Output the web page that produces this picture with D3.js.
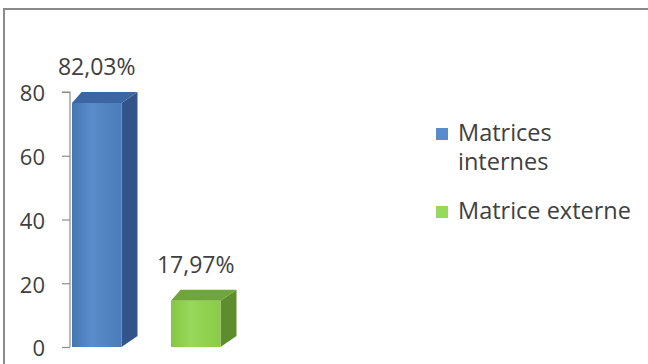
<!DOCTYPE html>
<html>
<head>
<meta charset="utf-8">
<script src="https://cdn.jsdelivr.net/npm/d3@7"></script>
<style>
  html, body { margin: 0; padding: 0; background: #fff; }
  svg { display: block; }
  text { font-family: "Open Sans", "Liberation Sans", sans-serif; fill: #404040; }
</style>
</head>
<body>
<svg id="chart" width="648" height="364"></svg>
<script>
// Répartition des matrices (valeurs en %)
const categories = ["Matrices internes", "Matrice externe"];
const values = [82.03, 17.97];
const legendLines = [["Matrices", "internes"], ["Matrice externe"]];
const yTicks = [0, 20, 40, 60, 80];

const palette = [
  { front: ["#4576b4", "#5a8ccb", "#4a7cba"], side: "#31548a", top: "#3c66a3" },
  { front: ["#86c644", "#98d85a", "#8acb48"], side: "#5f8d2e", top: "#6fa63b" }
];

const svg = d3.select("#chart");
const W = 648, H = 364;

// Cadre de la zone du graphique
svg.append("rect")
  .attr("x", 4).attr("y", 9)
  .attr("width", W + 10).attr("height", H + 10)
  .attr("fill", "#fff")
  .attr("stroke", "#8a8a8a").attr("stroke-width", 2);

const y = d3.scaleLinear().domain([0, 80]).range([347, 92]).clamp(true);
const x = d3.scaleBand().domain(categories)
  .range([47.25, 245.25]).paddingInner(0.5).paddingOuter(0.25);

const depthX = 16, depthY = 11;

// Axe vertical
const axis = svg.append("g").attr("transform", "translate(70,0)")
  .call(d3.axisLeft(y).tickValues(yTicks).tickSize(8).tickPadding(17));
axis.select(".domain").attr("stroke", "#8c8c8c").attr("stroke-width", 1.2)
  .attr("d", `M-8,${y(80)}H0V${y(0)}`);
axis.selectAll(".tick line").attr("stroke", "#8c8c8c").attr("stroke-width", 1.2);
axis.selectAll(".tick text")
  .style("font-family", '"Open Sans", sans-serif')
  .style("font-size", "22px").attr("fill", "#404040").attr("dy", "0.4em");

// Dégradés des faces avant
const defs = svg.append("defs");
palette.forEach((p, i) => {
  const g = defs.append("linearGradient").attr("id", "front" + i)
    .attr("x1", "0").attr("x2", "1").attr("y1", "0").attr("y2", "0");
  g.append("stop").attr("offset", "0").attr("stop-color", p.front[0]);
  g.append("stop").attr("offset", "0.4").attr("stop-color", p.front[1]);
  g.append("stop").attr("offset", "1").attr("stop-color", p.front[2]);
});

// Colonnes 3D
const bars = svg.append("g").selectAll("g").data(categories).join("g");
bars.each(function (c, i) {
  const g = d3.select(this);
  const x0 = x(c), x1 = x(c) + x.bandwidth();
  const backTop = y(values[i]);
  const frontTop = backTop + depthY;
  const base = y(0);
  // face latérale
  g.append("path").attr("fill", palette[i].side)
    .attr("d", `M${x1},${frontTop}L${x1 + depthX},${backTop}L${x1 + depthX},${base - depthY}L${x1},${base}Z`);
  // dessus
  g.append("path").attr("fill", palette[i].top)
    .attr("d", `M${x0},${frontTop}L${x0 + depthX * 0.6},${backTop}L${x1 + depthX},${backTop}L${x1},${frontTop}Z`);
  // face avant
  g.append("rect").attr("fill", `url(#front${i})`)
    .attr("x", x0).attr("y", frontTop)
    .attr("width", x.bandwidth()).attr("height", base - frontTop);
});

// Étiquettes de valeurs
const fr = d3.formatLocale({ decimal: ",", thousands: " ", grouping: [3], currency: ["", " €"] });
const fmt = fr.format(".2f");
svg.append("g").selectAll("text").data(categories).join("text")
  .attr("x", c => x(c) + x.bandwidth() / 2)
  .attr("y", (c, i) => y(values[i]) - 17)
  .attr("text-anchor", "middle")
  .style("font-size", "23px")
  .text((c, i) => fmt(values[i]) + "%");

// Légende
const legendY = [128, 206];
const legend = svg.append("g").selectAll("g").data(categories).join("g")
  .attr("transform", (c, i) => `translate(436,${legendY[i]})`);
legend.append("rect").attr("width", 12).attr("height", 12)
  .attr("fill", (c, i) => palette[i].front[1]);
legend.append("text")
  .style("font-size", "23.5px")
  .selectAll("tspan").data((c, i) => legendLines[i]).join("tspan")
  .attr("x", 22).attr("y", (d, j) => 13 + j * 29)
  .text(d => d);
</script>
</body>
</html>
